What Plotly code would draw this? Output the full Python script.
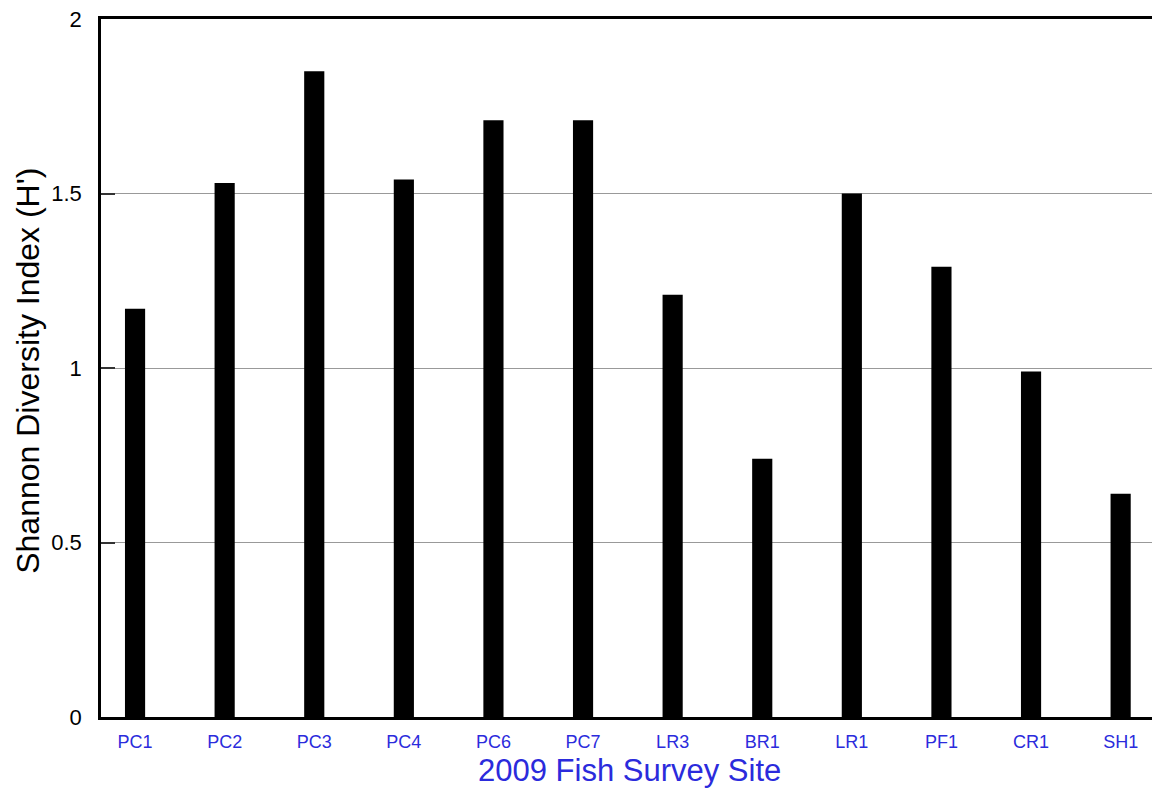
import plotly.graph_objects as go

sites = ["PC1", "PC2", "PC3", "PC4", "PC6", "PC7", "LR3", "BR1", "LR1", "PF1", "CR1", "SH1"]
shannon = [1.17, 1.53, 1.85, 1.54, 1.71, 1.71, 1.21, 0.74, 1.50, 1.29, 0.99, 0.64]
y_ticks = [0, 0.5, 1, 1.5, 2]
y_tick_labels = ["0", "0.5", "1", "1.5", "2"]
x_title = "2009 Fish Survey Site"
y_title = "Shannon Diversity Index (H')"

fig = go.Figure(go.Bar(
    x=sites, y=shannon,
    marker=dict(color="black", line=dict(width=0)),
    width=0.225,
))

font = "Liberation Sans, Arial, Helvetica, sans-serif"
blue = "#2b2bdc"

fig.update_layout(
    width=1152, height=790,
    margin=dict(l=101, r=0, t=19, b=73, autoexpand=False),
    paper_bgcolor="white", plot_bgcolor="white",
    showlegend=False,
    font=dict(family=font),
    xaxis=dict(
        type="category",
        range=[-0.38, 11.35],
        automargin=False,
        showline=True, linecolor="black", linewidth=2.5, mirror=True,
        ticks="", showgrid=False,
        ticklabelstandoff=7,
        tickfont=dict(size=18, color=blue, family=font),
    ),
    yaxis=dict(
        range=[0, 2],
        automargin=False,
        tickvals=y_ticks, ticktext=y_tick_labels,
        showline=True, linecolor="black", linewidth=2.5,
        ticks="inside", ticklen=14, tickcolor="#333", tickwidth=1.5,
        ticklabelstandoff=12,
        ticklabeloverflow="allow",
        showgrid=True, gridcolor="#999999", gridwidth=1,
        zeroline=False,
        tickfont=dict(size=22, color="black", family=font),
    ),
    annotations=[
        dict(
            text=x_title, xref="paper", yref="paper", x=0.503, y=0,
            xanchor="center", yanchor="middle", yshift=-53, showarrow=False,
            font=dict(size=31, color=blue, family=font),
        ),
        dict(
            text=y_title, xref="paper", yref="paper", x=0, y=0.496,
            xanchor="center", yanchor="middle", xshift=-73, textangle=-90,
            showarrow=False,
            font=dict(size=32, color="black", family=font),
        ),
    ],
)

fig.write_html(
    "out.html",
    config={"displayModeBar": False},
    post_script="document.body.style.margin='0';document.body.style.overflow='hidden';",
)
